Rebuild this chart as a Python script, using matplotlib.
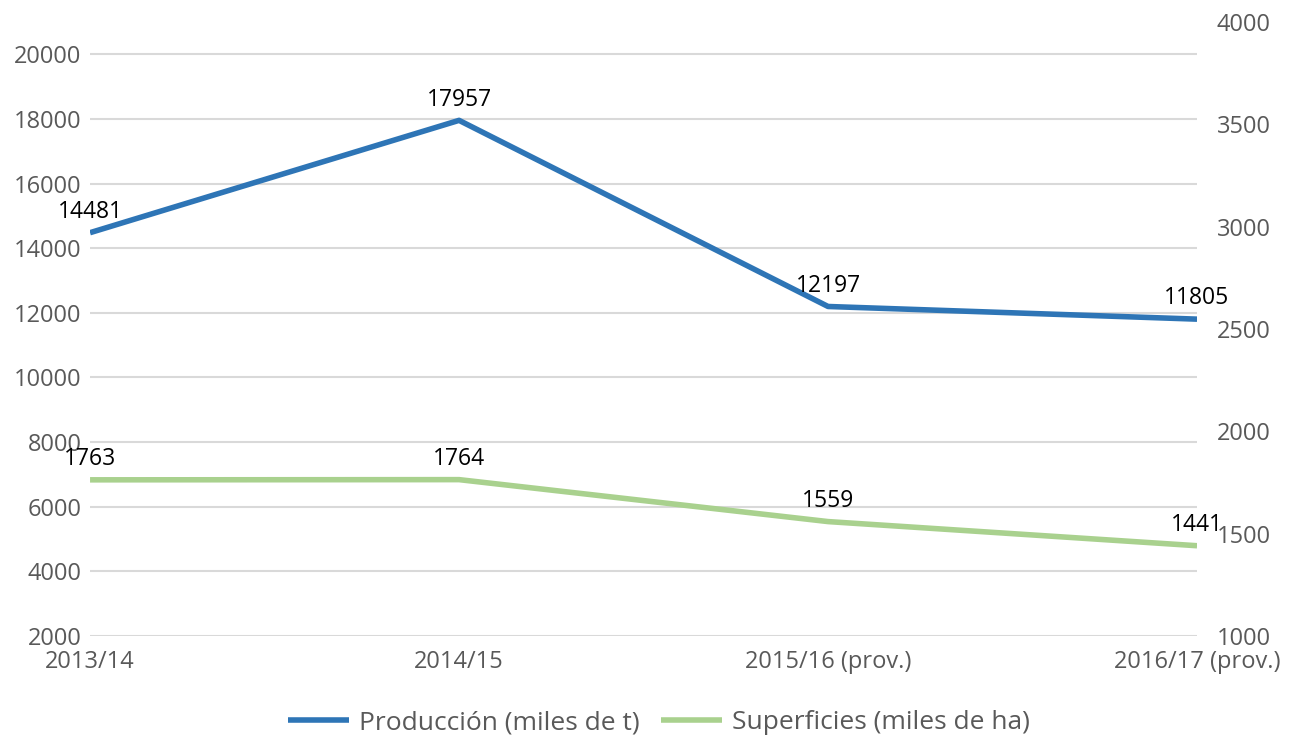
import matplotlib.pyplot as plt
import numpy as np

# ----- data -----
campaigns = ['2013/14', '2014/15', '2015/16 (prov.)', '2016/17 (prov.)']
produccion = [14481, 17957, 12197, 11805]
superficie = [1763, 1764, 1559, 1441]

plt.rcParams['font.family'] = ['Open Sans', 'DejaVu Sans']

fig = plt.figure(figsize=(12.92, 7.39), dpi=100)
ax = fig.add_axes([0.0697, 0.1394, 0.9265 - 0.0697, 0.9702 - 0.1394])
ax2 = ax.twinx()

x = np.arange(len(campaigns))
blue = '#2E75B6'
green = '#A9D18E'

ax.plot(x, produccion, color=blue, lw=4, solid_capstyle='butt', zorder=3,
        label='Producción (miles de t)')
ax2.plot(x, superficie, color=green, lw=4, solid_capstyle='butt', zorder=3,
         label='Superficies (miles de ha)')

# ----- data labels -----
for xi, v in zip(x, produccion):
    ax.annotate(str(v), (xi, v), xytext=(0, 15), textcoords='offset points',
                ha='center', va='center', fontsize=16.5, color='black')
for xi, v in zip(x, superficie):
    ax2.annotate(str(v), (xi, v), xytext=(0, 15), textcoords='offset points',
                 ha='center', va='center', fontsize=16.5, color='black')

# ----- axes -----
ax.set_xlim(0, 3)
ax.set_ylim(2000, 21000)
ax.set_yticks(np.arange(2000, 20001, 2000))
ax2.set_ylim(1000, 4000)
ax2.set_yticks(np.arange(1000, 4001, 500))

ax.set_xticks(x)
ax.set_xticklabels(campaigns)

ax.grid(axis='y', color='#D9D9D9', lw=1.5)
ax.set_axisbelow(True)
for a in (ax, ax2):
    for s in a.spines.values():
        s.set_visible(False)
    a.tick_params(length=0, labelsize=17, colors='#595959')
ax.tick_params(axis='y', pad=6)
ax.tick_params(axis='x', pad=10)
ax2.tick_params(axis='y', pad=14)

# ----- legend -----
h1, l1 = ax.get_legend_handles_labels()
h2, l2 = ax2.get_legend_handles_labels()
leg = fig.legend(h1 + h2, l1 + l2, loc='center', bbox_to_anchor=(0.51, 0.022),
                 ncol=2, frameon=False, fontsize=19, handlelength=2.3,
                 columnspacing=0.8, handletextpad=0.4)
for t in leg.get_texts():
    t.set_color('#595959')

fig.savefig('out.png', dpi=100)
